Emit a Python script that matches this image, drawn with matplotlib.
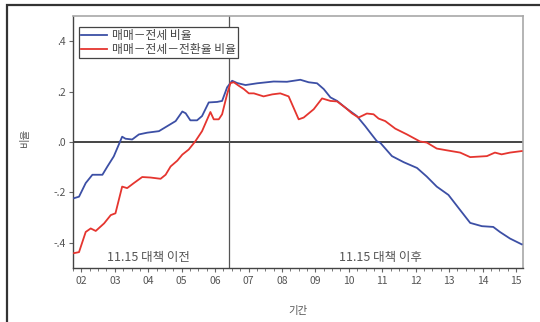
import matplotlib
matplotlib.use("Agg")
import matplotlib.pyplot as plt
from matplotlib.patches import Rectangle
from matplotlib.ticker import FuncFormatter
import numpy as np

plt.rcParams['font.family'] = ['Noto Sans CJK KR', 'DejaVu Sans']
plt.rcParams['axes.unicode_minus'] = False

# 매매-전세 비율 (시점: 연 단위 소수)
blue_t = [2002.28, 2002.43, 2002.63, 2002.83, 2003.13, 2003.28, 2003.47, 2003.72,
          2003.82, 2004.02, 2004.22, 2004.47, 2004.82, 2005.07, 2005.32, 2005.52,
          2005.62, 2005.76, 2005.96, 2006.11, 2006.31, 2006.56, 2006.71, 2006.86,
          2007.01, 2007.16, 2007.41, 2007.76, 2008.25, 2008.65, 2009.05, 2009.30,
          2009.55, 2009.75, 2009.95, 2010.15, 2010.39, 2010.74, 2010.99, 2011.14,
          2011.34, 2011.44, 2011.79, 2012.14, 2012.54, 2012.83, 2013.13, 2013.48,
          2013.83, 2014.13, 2014.48, 2014.82, 2015.02, 2015.32, 2015.67]
blue_v = [-0.223, -0.217, -0.163, -0.130, -0.130, -0.097, -0.057, 0.021,
          0.013, 0.010, 0.030, 0.037, 0.043, 0.063, 0.083, 0.121,
          0.114, 0.086, 0.086, 0.103, 0.157, 0.159, 0.163, 0.217,
          0.243, 0.234, 0.226, 0.233, 0.240, 0.239, 0.247, 0.237,
          0.233, 0.210, 0.177, 0.163, 0.137, 0.103, 0.063, 0.037,
          0.003, -0.003, -0.056, -0.080, -0.103, -0.137, -0.177, -0.210,
          -0.270, -0.321, -0.334, -0.337, -0.357, -0.383, -0.406]

# 매매-전세-전환율 비율
red_t = [2002.28, 2002.43, 2002.63, 2002.78, 2002.93, 2003.18, 2003.38, 2003.52,
         2003.72, 2003.87, 2004.07, 2004.32, 2004.57, 2004.87, 2005.02, 2005.17,
         2005.37, 2005.52, 2005.71, 2005.91, 2006.11, 2006.36, 2006.46, 2006.61,
         2006.71, 2006.86, 2006.96, 2007.06, 2007.21, 2007.36, 2007.51, 2007.66,
         2007.95, 2008.21, 2008.45, 2008.70, 2009.00, 2009.15, 2009.45, 2009.70,
         2009.95, 2010.15, 2010.39, 2010.59, 2010.79, 2011.04, 2011.24, 2011.39,
         2011.59, 2011.89, 2012.24, 2012.63, 2012.83, 2013.13, 2013.43, 2013.83,
         2014.13, 2014.63, 2014.87, 2015.07, 2015.32, 2015.67]
red_v = [-0.441, -0.437, -0.357, -0.343, -0.353, -0.323, -0.290, -0.283,
         -0.177, -0.183, -0.163, -0.139, -0.141, -0.146, -0.130, -0.097,
         -0.074, -0.050, -0.030, 0.003, 0.043, 0.119, 0.090, 0.090,
         0.110, 0.190, 0.234, 0.237, 0.223, 0.210, 0.193, 0.193,
         0.181, 0.189, 0.193, 0.181, 0.090, 0.097, 0.130, 0.173,
         0.163, 0.161, 0.137, 0.114, 0.097, 0.113, 0.110, 0.093,
         0.083, 0.053, 0.030, 0.002, -0.002, -0.026, -0.033, -0.042,
         -0.060, -0.056, -0.042, -0.049, -0.042, -0.036]

years = list(range(2002, 2016))
year_labels = [f"{y % 100:02d}" for y in years]
policy_date = 2006.92
yticks = [-0.4, -0.2, 0.0, 0.2, 0.4]

blue = '#3c4fa5'
red = '#e5352f'
grey = '#555555'

fig = plt.figure(figsize=(5.4, 3.22), dpi=100)
ax = fig.add_axes([73 / 540, 54 / 322, 450 / 540, 252 / 322])

ax.plot(blue_t, blue_v, color=blue, lw=1.3, label='매매－전세 비율', zorder=3)
ax.plot(red_t, red_v, color=red, lw=1.3, label='매매－전세－전환율 비율', zorder=3)

ax.axhline(0, color='#444444', lw=1.4, zorder=2)
ax.axvline(policy_date, color='#555555', lw=0.9, zorder=2)

ax.set_xlim(2002.27, 2015.71)
ax.set_ylim(-0.5, 0.5)

ax.set_yticks(yticks)
ax.yaxis.set_major_formatter(FuncFormatter(
    lambda v, p: ('-' if v < -1e-9 else '') + f"{abs(v):.1f}".lstrip('0')))
ax.set_xticks([y + 0.5 for y in years])
ax.set_xticklabels(year_labels)
ax.set_xticks(np.arange(2002.25, 2015.75, 0.25), minor=True)

ax.tick_params(axis='both', which='major', direction='out', length=3,
               width=0.8, color='#666666', labelsize=7.5, labelcolor=grey)
ax.tick_params(axis='x', which='minor', direction='out', length=2.5,
               width=0.7, color='#777777')
ax.tick_params(axis='y', pad=2)
ax.tick_params(axis='x', pad=3)

for side in ['left', 'bottom']:
    ax.spines[side].set_color('#444444')
    ax.spines[side].set_linewidth(1.0)
for side in ['top', 'right']:
    ax.spines[side].set_color('#a8a8a8')
    ax.spines[side].set_linewidth(1.2)

ax.text(2004.51, -0.457, '11.15 대책 이전', ha='center', va='center',
        fontsize=9, color=grey)
ax.text(2011.44, -0.457, '11.15 대책 이후', ha='center', va='center',
        fontsize=9, color=grey)

leg = ax.legend(loc='upper left', bbox_to_anchor=(0.013, 0.956),
                borderaxespad=0, fontsize=8.5, handlelength=2.2,
                handletextpad=0.4, labelspacing=0.05, borderpad=0.2,
                fancybox=False, framealpha=1, edgecolor='#444444')
leg.get_frame().set_linewidth(0.9)
for txt in leg.get_texts():
    txt.set_color('#444444')

fig.text(25 / 540, 1 - 137 / 322, '비율', rotation=90, ha='center',
         va='center', fontsize=7.5, color=grey)
fig.text(298 / 540, 1 - 311 / 322, '기간', ha='center', va='center',
         fontsize=7.5, color=grey)

# 바깥 테두리
fig.patches.append(Rectangle((7 / 540, -0.05), 1.0, 1 - 5 / 322 + 0.05,
                             transform=fig.transFigure, fill=False,
                             edgecolor='#333333', lw=1.6))

fig.savefig('out.png', dpi=100)
